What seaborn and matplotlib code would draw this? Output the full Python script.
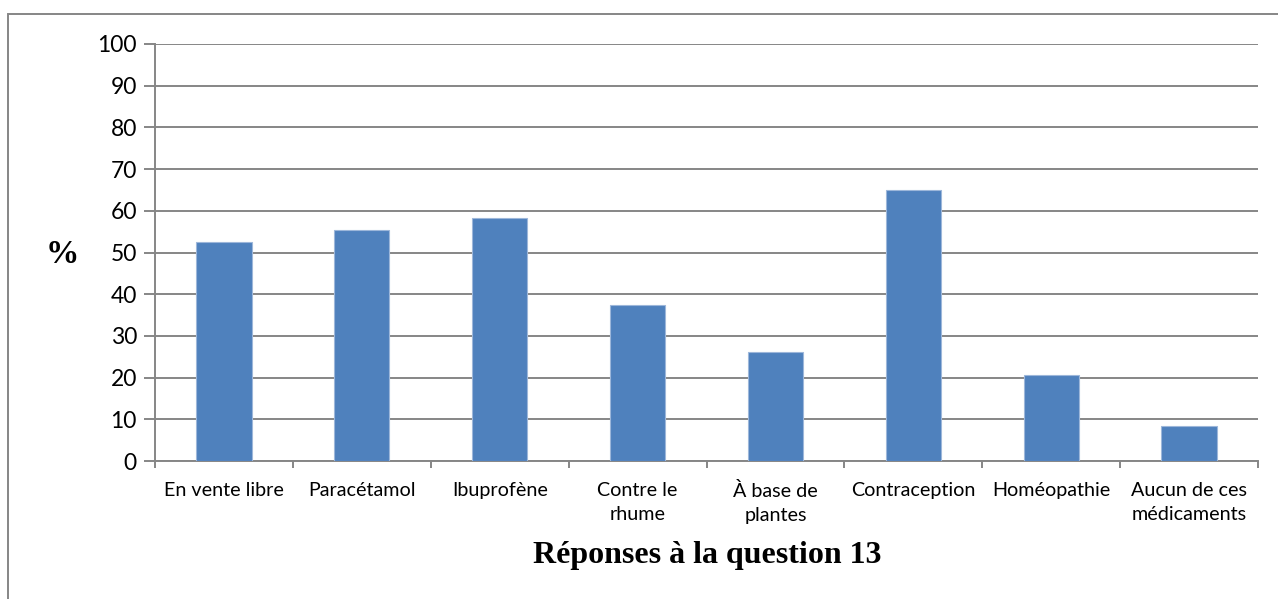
import matplotlib
matplotlib.use("Agg")
import matplotlib.pyplot as plt
import seaborn as sns
import pandas as pd
from matplotlib.patches import Rectangle

categories = ["En vente libre", "Paracétamol", "Ibuprofène", "Contre le\nrhume",
              "À base de\nplantes", "Contraception", "Homéopathie", "Aucun de ces\nmédicaments"]
values = [52.4, 55.4, 58.3, 37.5, 26.2, 64.9, 20.7, 8.3]
yticks = [0, 10, 20, 30, 40, 50, 60, 70, 80, 90, 100]
title = "Réponses à la question 13"
ylabel = "%"

df = pd.DataFrame({"cat": categories, "val": values})

sns.set_theme(style="white")
plt.rcParams["font.family"] = ["Lato", "DejaVu Sans"]
plt.rcParams["text.color"] = "black"

fig = plt.figure(figsize=(12.78, 5.99), dpi=100)
ax = fig.add_axes([155/1278, 1 - 461/599, (1258-155)/1278, (461-44)/599])

gray = "#868686"
sns.barplot(data=df, x="cat", y="val", ax=ax, color="#4F81BD", width=0.4,
            saturation=1, edgecolor="#9DB7DA", linewidth=0.8, zorder=3)

ax.set_ylim(0, 100)
ax.set_xlim(-0.5, len(categories) - 0.5)
ax.set_yticks(yticks)
ax.set_yticklabels([str(t) for t in yticks], fontsize=16.5)
ax.yaxis.grid(True, color=gray, linewidth=1.4, zorder=0)
ax.set_axisbelow(True)
ax.set_xlabel("")
ax.set_ylabel("")

for s in ["top", "right"]:
    ax.spines[s].set_visible(False)
for s in ["left", "bottom"]:
    ax.spines[s].set_color(gray)
    ax.spines[s].set_linewidth(1.4)

ax.tick_params(axis="y", which="major", direction="out", length=8, width=1.4,
               color=gray, left=True, pad=5, labelcolor="black")
ax.set_xticks(range(len(categories)))
ax.set_xticklabels(categories, fontsize=14.2, linespacing=1.5, color="black")
ax.tick_params(axis="x", which="major", length=0, pad=15, labelcolor="black")
ax.set_xticks([i - 0.5 for i in range(len(categories) + 1)], minor=True)
ax.tick_params(axis="x", which="minor", direction="out", length=5, width=1.4,
               color=gray, bottom=True)
for lab in ax.get_xticklabels():
    lab.set_verticalalignment("top")

fig.text(707/1278, 1 - 556/599, title, ha="center", va="center", color="black",
         fontsize=23, fontweight="bold", family=["Liberation Serif", "DejaVu Serif"])
fig.text(62/1278, 1 - 254/599, ylabel, ha="center", va="center", color="black",
         fontsize=24, fontweight="bold", family=["Liberation Serif", "DejaVu Serif"])

fig.patches.append(Rectangle((8/1278, -0.1), 1.2, 1 - 14/599 + 0.1, transform=fig.transFigure,
                             fill=False, edgecolor=gray, linewidth=1.4))

fig.savefig("out.png", dpi=100)
